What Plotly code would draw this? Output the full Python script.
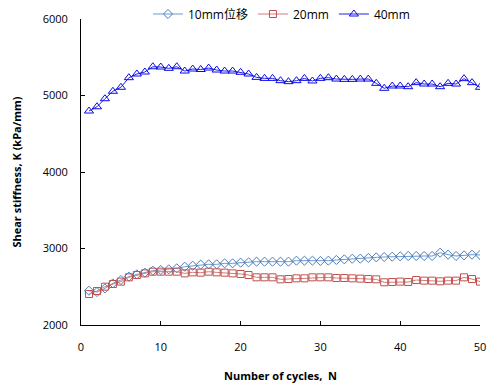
import plotly.graph_objects as go

cycles = list(range(1, 51))
k_10mm = [2448, 2431, 2479, 2545, 2588, 2632, 2662, 2684, 2710, 2719,
          2728, 2741, 2762, 2775, 2789, 2793, 2793, 2806, 2806, 2815,
          2819, 2828, 2828, 2828, 2828, 2828, 2841, 2841, 2841, 2837,
          2841, 2850, 2858, 2867, 2867, 2876, 2884, 2889, 2893, 2897,
          2902, 2902, 2902, 2902, 2945, 2919, 2902, 2910, 2919, 2915]
k_20mm = [2405, 2444, 2501, 2536, 2567, 2623, 2654, 2675, 2697, 2697,
          2697, 2697, 2675, 2688, 2684, 2697, 2688, 2684, 2675, 2667,
          2654, 2623, 2623, 2623, 2597, 2601, 2610, 2610, 2623, 2623,
          2623, 2614, 2614, 2610, 2606, 2601, 2597, 2558, 2562, 2567,
          2562, 2588, 2580, 2580, 2571, 2580, 2580, 2623, 2601, 2567]
k_40mm = [4797, 4853, 4958, 5055, 5107, 5233, 5281, 5307, 5376, 5372,
          5355, 5376, 5320, 5346, 5340, 5359, 5333, 5320, 5320, 5303,
          5281, 5237, 5224, 5224, 5194, 5181, 5194, 5224, 5190, 5224,
          5233, 5215, 5211, 5211, 5215, 5215, 5159, 5094, 5124, 5124,
          5115, 5168, 5150, 5150, 5115, 5159, 5150, 5220, 5168, 5107]

series = [
    ("10mm位移", k_10mm, "#4a7ebb", "#6f97cf", "diamond-open", 7),
    ("20mm", k_20mm, "#c0504d", "#d47a78", "square-open", 7),
    ("40mm", k_40mm, "#0a0ae6", "#2020e0", "triangle-up-open", 8),
]

fig = go.Figure()
for name, vals, mcolor, lcolor, sym, sz in series:
    fig.add_trace(go.Scatter(
        x=cycles, y=vals, name=name, mode="lines+markers",
        line=dict(color=lcolor, width=1),
        marker=dict(symbol=sym, size=sz, color=mcolor, line=dict(color=mcolor, width=1)),
    ))

fig.update_layout(
    width=487, height=384,
    margin=dict(l=81, r=7, t=19, b=59, autoexpand=False),
    paper_bgcolor="white", plot_bgcolor="white",
    font=dict(family="Open Sans, Noto Sans CJK SC, sans-serif", size=11, color="#000"),
    showlegend=True,
    legend=dict(orientation="h", xref="container", yref="container",
                x=0.578, xanchor="center", y=1 - 14 / 384, yanchor="middle",
                font=dict(size=12), bgcolor="rgba(0,0,0,0)", itemwidth=30,
                tracegroupgap=0),
)
fig.update_xaxes(
    range=[0, 50], tickvals=[0, 10, 20, 30, 40, 50],
    showline=True, linecolor="black", linewidth=1,
    ticks="inside", ticklen=4, tickcolor="black",
    showgrid=False, zeroline=False, automargin=False,
    ticklabelstandoff=12,
    title=dict(text="<b>Number of cycles,  N</b>", font=dict(size=11), standoff=19),
)
fig.update_yaxes(
    range=[2000, 6000], tickvals=[2000, 3000, 4000, 5000, 6000],
    showline=True, linecolor="black", linewidth=1,
    ticks="inside", ticklen=4, tickcolor="black",
    showgrid=False, zeroline=False, automargin=False,
    ticklabelstandoff=10,
    title=dict(text="<b>Shear stiffness, K (kPa/mm)</b>", font=dict(size=11), standoff=18),
)

fig.write_html("out.html")
